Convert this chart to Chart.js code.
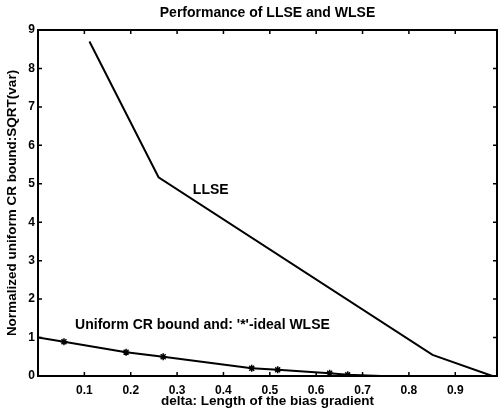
<!DOCTYPE html>
<html>
<head>
<meta charset="utf-8">
<script src="https://cdn.jsdelivr.net/npm/chart.js@4.4.1/dist/chart.umd.min.js"></script>
<style>
  html, body { margin: 0; padding: 0; background: #fff; }
  #wrap { width: 498px; height: 413px; position: relative; }
</style>
</head>
<body>
<div id="wrap"><canvas id="perf"></canvas></div>
<script>
// values
var llseX = [0.111, 0.26, 0.851, 0.98];
var llseY = [8.70, 5.17, 0.55, 0];

var wlseX = [0, 0.056, 0.19, 0.27, 0.461, 0.517, 0.629, 0.668, 0.74, 0.99];
var wlseY = [1, 0.89, 0.62, 0.50, 0.20, 0.16, 0.07, 0.03, 0, 0];
// the points that carry a '*' marker
var markX = [0.056, 0.19, 0.27, 0.461, 0.517, 0.629, 0.668];
var markY = [0.89, 0.62, 0.50, 0.20, 0.16, 0.07, 0.03];

var xTicks = [0.1, 0.2, 0.3, 0.4, 0.5, 0.6, 0.7, 0.8, 0.9];
var yTicks = [0, 1, 2, 3, 4, 5, 6, 7, 8, 9];

var titleText = 'Performance of LLSE and WLSE';
var notes = [
  { text: 'LLSE', x: 0.334, y: 4.84 },
  { text: "Uniform CR bound and: '*'-ideal WLSE", x: 0.08, y: 1.33 }
];

function pts(xs, ys){
  var out = [];
  for (var i = 0; i < xs.length; i++) out.push({ x: xs[i], y: ys[i] });
  return out;
}

var FONT = '"Liberation Sans", Arial, sans-serif';

// MATLAB style box with inward ticks, title over the axes, text notes
var boxPlugin = {
  id: 'box',
  afterDraw: function(chart){
    var ctx = chart.ctx, a = chart.chartArea;
    var xs = chart.scales.x, ys = chart.scales.y;
    ctx.save();
    ctx.strokeStyle = '#000';
    ctx.lineWidth = 2;
    ctx.strokeRect(a.left, a.top, a.right - a.left, a.bottom - a.top);
    ctx.lineWidth = 1.5;
    ctx.beginPath();
    xTicks.forEach(function(v){
      var px = xs.getPixelForValue(v);
      ctx.moveTo(px, a.bottom); ctx.lineTo(px, a.bottom - 4);
      ctx.moveTo(px, a.top); ctx.lineTo(px, a.top + 4);
    });
    yTicks.forEach(function(v){
      var py = ys.getPixelForValue(v);
      ctx.moveTo(a.left, py); ctx.lineTo(a.left + 4, py);
      ctx.moveTo(a.right, py); ctx.lineTo(a.right - 4, py);
    });
    ctx.stroke();

    ctx.fillStyle = '#000';
    ctx.textBaseline = 'middle';
    ctx.textAlign = 'center';
    ctx.font = 'bold 14px ' + FONT;
    ctx.fillText(titleText, (a.left + a.right) / 2, 13);

    ctx.textAlign = 'left';
    notes.forEach(function(n){
      ctx.fillText(n.text, xs.getPixelForValue(n.x), ys.getPixelForValue(n.y));
    });
    ctx.restore();
  }
};

var ctx = document.getElementById('perf').getContext('2d');
var chart = new Chart(ctx, {
  type: 'line',
  data: {
    datasets: [
      {
        label: 'LLSE',
        data: pts(llseX, llseY),
        borderColor: '#000',
        borderWidth: 2,
        pointRadius: 0,
        fill: false,
        tension: 0
      },
      {
        label: 'WLSE',
        data: pts(wlseX, wlseY),
        borderColor: '#000',
        borderWidth: 2,
        pointRadius: 0,
        fill: false,
        tension: 0
      },
      {
        label: 'ideal',
        data: pts(markX, markY),
        showLine: false,
        pointStyle: 'star',
        pointRadius: 3.5,
        pointBorderWidth: 1.5,
        borderColor: '#000',
        backgroundColor: '#000'
      }
    ]
  },
  options: {
    responsive: true,
    maintainAspectRatio: false,
    animation: false,
    layout: { autoPadding: false, padding: { left: 0, right: 1, top: 30, bottom: 0 } },
    plugins: {
      legend: { display: false },
      tooltip: { enabled: false },
      title: { display: false }
    },
    scales: {
      x: {
        type: 'linear',
        min: 0,
        max: 0.99,
        border: { display: false },
        grid: { display: false, drawTicks: false },
        afterBuildTicks: function(s){
          s.ticks = xTicks.map(function(v){ return { value: v }; });
        },
        ticks: {
          padding: 7,
          color: '#000',
          maxRotation: 0,
          autoSkip: false,
          font: { family: FONT, size: 12, weight: 'bold' },
          callback: function(v){ return v.toFixed(1); }
        },
        title: {
          display: true,
          text: 'delta: Length of the bias gradient',
          color: '#000',
          padding: { top: 0, bottom: 4 },
          font: { family: FONT, size: 13.5, weight: 'bold' }
        },
        afterFit: function(s){
          s.height = 37;
          s.paddingLeft = 0;
          s.paddingRight = 0;
        }
      },
      y: {
        type: 'linear',
        min: 0,
        max: 9,
        border: { display: false },
        grid: { display: false, drawTicks: false },
        afterBuildTicks: function(s){
          s.ticks = yTicks.map(function(v){ return { value: v }; });
        },
        ticks: {
          padding: 3,
          color: '#000',
          font: { family: FONT, size: 12, weight: 'bold' }
        },
        title: {
          display: true,
          text: 'Normalized uniform CR bound:SQRT(var)',
          color: '#000',
          padding: { top: 4, bottom: 2 },
          font: { family: FONT, size: 13.5, weight: 'bold' }
        },
        afterFit: function(s){
          s.width = 38;
          s.paddingTop = 0;
          s.paddingBottom = 0;
        }
      }
    }
  },
  plugins: [boxPlugin]
});
</script>
</body>
</html>
